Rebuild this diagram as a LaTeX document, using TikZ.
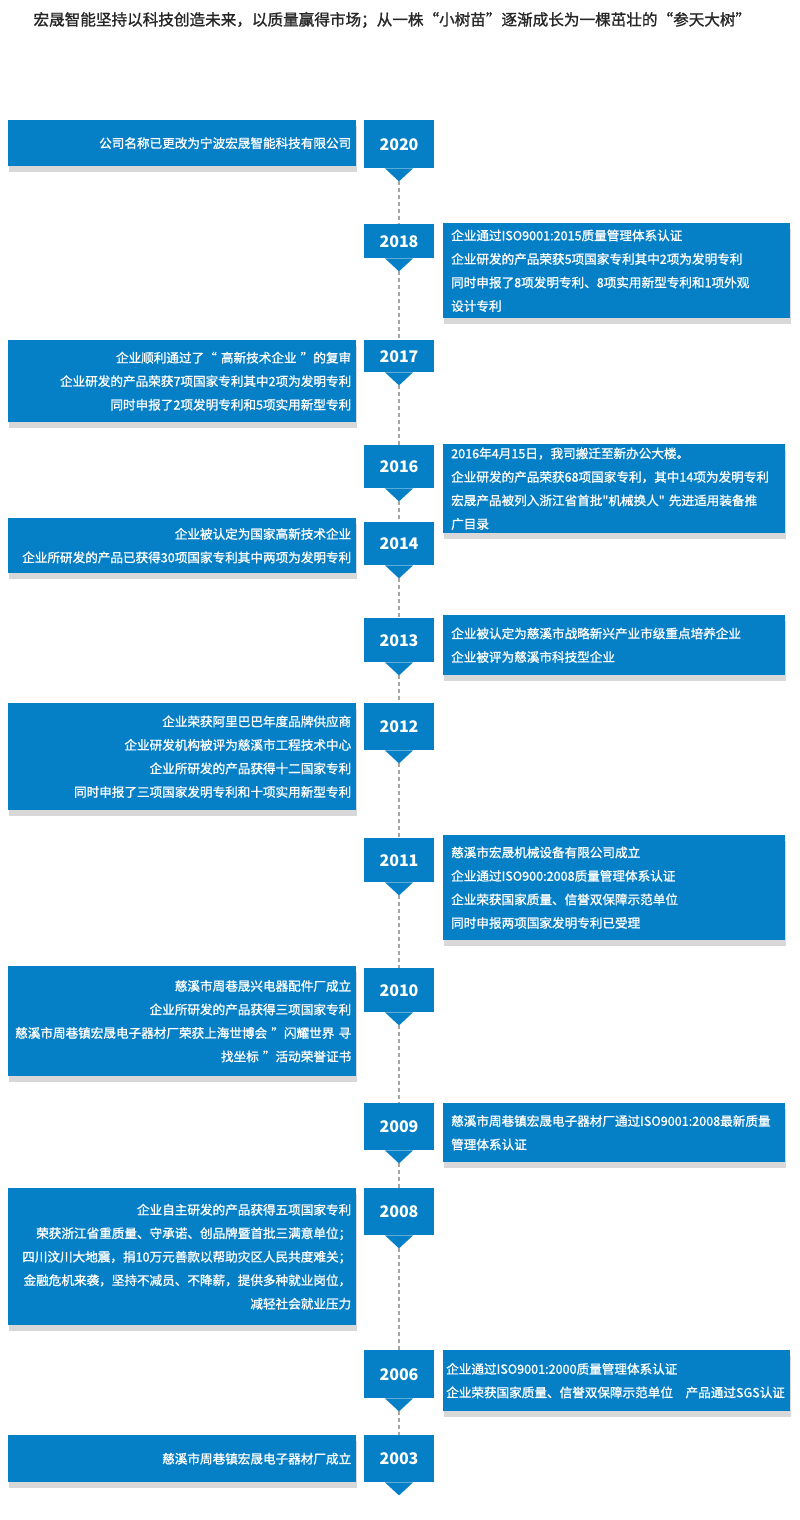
\documentclass[tikz,border=0pt]{standalone}
\usepackage{fontspec}
\setmainfont{Noto Sans CJK SC}
\newfontfamily\medfont[FakeBold=1.2]{Noto Sans CJK SC}
\usetikzlibrary{shadows}
\definecolor{hsblue}{HTML}{0580C6}
\tikzset{
  yearbox/.style={fill=hsblue, text=white, minimum width=70pt, inner sep=0pt,
    font=\fontsize{16}{16}\selectfont\bfseries},
  infobox/.style={fill=hsblue, text=white, inner sep=0pt,
    drop shadow={opacity=.25, shadow xshift=1pt, shadow yshift=-6pt, fill=black!60},
    font=\medfont\fontsize{12.6}{23.5}\selectfont},
  leftbox/.style={infobox, anchor=north west, minimum width=348pt, text width=338pt, align=right},
  rightbox/.style={infobox, anchor=north west, text width=330pt, align=left},
  track/.style={gray!70, dashed, line width=1.2pt, dash pattern=on 4pt off 3pt}
}
\begin{document}
\begin{tikzpicture}[x=1pt, y=-1pt]
  \useasboundingbox[fill=white] (0,0) rectangle (800,1520);
  \node[anchor=west, font=\medfont\fontsize{15.6}{15.6}\selectfont, text=black!85] (title) at (30,20)
    {宏晟智能坚持以科技创造未来，以质量赢得市场；从一株“小树苗”逐渐成长为一棵茁壮的“参天大树”};

  % year markers
  \foreach \yr/\t/\b in {2020/120/168, 2018/224/258, 2017/340/372, 2016/445/488,
      2014/522/565, 2013/618/662, 2012/703/750, 2011/838/882, 2010/968/1012,
      2009/1103/1150, 2008/1188/1235, 2006/1350/1398, 2003/1435/1482}{
    \node[yearbox, minimum height=\b-\t, anchor=north] (y\yr) at (399,\t) {\yr};
    \fill[hsblue] (y\yr.south) ++(-14,0) -- ++(14,13) coordinate (t\yr) -- ++(14,-13) -- cycle;
  }
  \foreach \a/\b in {2020/2018, 2018/2017, 2017/2016, 2016/2014, 2014/2013, 2013/2012,
      2012/2011, 2011/2010, 2010/2009, 2009/2008, 2008/2006, 2006/2003}
    \draw[track] (t\a) -- (y\b.north);

  % events
  \node[leftbox, minimum height=46pt] (e2020) at (8,120) {公司名称已更改为宁波宏晟智能科技有限公司};
  \node[rightbox, minimum height=95pt, text width=331pt, inner xsep=8pt] (e2018) at (443,223)
    {企业通过ISO9001:2015质量管理体系认证\\企业研发的产品荣获5项国家专利其中2项为发明专利\\同时申报了8项发明专利、8项实用新型专利和1项外观\\设计专利};
  \node[leftbox, minimum height=82pt] (e2017) at (8,340)
    {企业顺利通过了“ 高新技术企业 ”的复审\\企业研发的产品荣获7项国家专利其中2项为发明专利\\同时申报了2项发明专利和5项实用新型专利};
  \node[rightbox, minimum height=89pt, inner xsep=8pt, text width=326pt] (e2016) at (443,444)
    {2016年4月15日，我司搬迁至新办公大楼。\\企业研发的产品荣获68项国家专利，其中14项为发明专利\\宏晟产品被列入浙江省首批"机械换人" 先进适用装备推\\广目录};
  \node[leftbox, minimum height=55pt] (e2014) at (8,518)
    {企业被认定为国家高新技术企业\\企业所研发的产品已获得30项国家专利其中两项为发明专利};
  \node[rightbox, minimum height=60pt, inner xsep=8pt, text width=326pt] (e2013) at (443,615)
    {企业被认定为慈溪市战略新兴产业市级重点培养企业\\企业被评为慈溪市科技型企业};
  \node[leftbox, minimum height=107pt] (e2012) at (8,703)
    {企业荣获阿里巴巴年度品牌供应商\\企业研发机构被评为慈溪市工程技术中心\\企业所研发的产品获得十二国家专利\\同时申报了三项国家发明专利和十项实用新型专利};
  \node[rightbox, minimum height=105pt, inner xsep=8pt, text width=326pt] (e2011) at (443,835)
    {慈溪市宏晟机械设备有限公司成立\\企业通过ISO900:2008质量管理体系认证\\企业荣获国家质量、信誉双保障示范单位\\同时申报两项国家发明专利已受理};
  \node[leftbox, minimum height=110pt] (e2010) at (8,966)
    {慈溪市周巷晟兴电器配件厂成立\\企业所研发的产品获得三项国家专利\\慈溪市周巷镇宏晟电子器材厂荣获上海世博会 ”闪耀世界 寻\\找坐标 ”活动荣誉证书};
  \node[rightbox, minimum height=59pt, inner xsep=8pt, text width=326pt] (e2009) at (443,1103)
    {慈溪市周巷镇宏晟电子器材厂通过ISO9001:2008最新质量\\管理体系认证};
  \node[leftbox, minimum height=137pt] (e2008) at (8,1188)
    {企业自主研发的产品获得五项国家专利\hspace*{1.2em}\\荣获浙江省重质量、守承诺、创品牌暨首批三满意单位；\\四川汶川大地震，捐10万元善款以帮助灾区人民共度难关；\\金融危机来袭，坚持不减员、不降薪，提供多种就业岗位，\\减轻社会就业压力};
  \node[rightbox, minimum height=61pt, inner xsep=3pt, text width=341pt] (e2006) at (443,1350)
    {企业通过ISO9001:2000质量管理体系认证\\企业荣获国家质量、信誉双保障示范单位\quad 产品通过SGS认证};
  \node[leftbox, minimum height=47pt] (e2003) at (8,1435) {慈溪市周巷镇宏晟电子器材厂成立};
\end{tikzpicture}
\end{document}
